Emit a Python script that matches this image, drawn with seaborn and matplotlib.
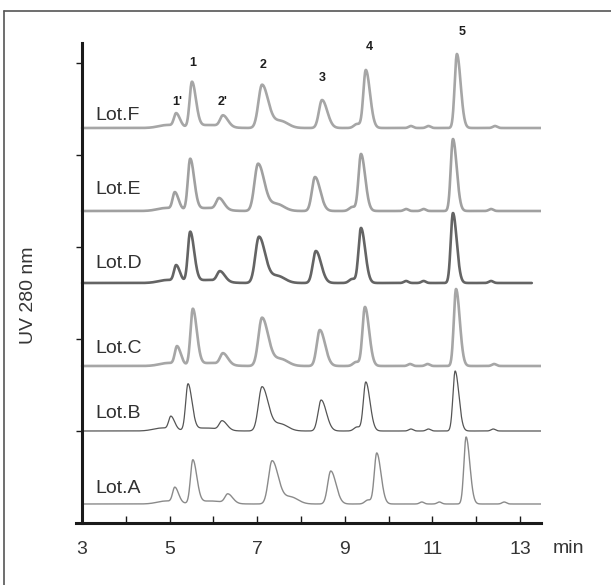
import numpy as np
import pandas as pd
import matplotlib
matplotlib.use("Agg")
import matplotlib.pyplot as plt
import matplotlib.transforms as mtransforms
from matplotlib.lines import Line2D
import seaborn as sns

# ---------------- data ----------------
lots = ["Lot.A", "Lot.B", "Lot.C", "Lot.D", "Lot.E", "Lot.F"]
baselines = [19, 92, 157, 240, 312, 395]          # vertical offset of each trace
run_end = [13.48, 13.48, 13.48, 13.27, 13.48, 13.48]

peak_names = ["1'", "1", "2'", "2", "3", "4", "5"]
peak_sigma = [0.05, 0.053, 0.065, 0.082, 0.07, 0.056, 0.05]

rt_A = [5.12, 5.53, 6.33, 7.34, 8.68, 9.73, 11.77]
h_A = [15, 43, 9, 43, 33, 51, 67]
rt_B = [5.03, 5.42, 6.20, 7.11, 8.46, 9.48, 11.52]
h_B = [13, 46, 9, 44, 31, 49, 60]
rt_C = [5.17, 5.53, 6.22, 7.11, 8.43, 9.46, 11.54]
h_C = [18, 56, 11, 48, 36, 59, 77]
rt_D = [5.15, 5.47, 6.15, 7.04, 8.34, 9.37, 11.47]
h_D = [16, 50, 10, 46, 32, 55, 70]
rt_E = [5.12, 5.47, 6.13, 7.02, 8.32, 9.37, 11.47]
h_E = [17, 51, 11, 47, 34, 57, 72]
rt_F = [5.15, 5.51, 6.22, 7.11, 8.48, 9.48, 11.56]
h_F = [13, 45, 11, 43, 28, 58, 74]

peak_rt = [rt_A, rt_B, rt_C, rt_D, rt_E, rt_F]
peak_h = [h_A, h_B, h_C, h_D, h_E, h_F]

# minor features: (reference peak index, rt offset, height, sigma)
minor_ref = [0, 1, 3, 5, 5, 5, 6]
minor_off = [-0.20, 0.40, 0.42, -0.20, 1.03, 1.43, 0.87]
minor_h = [3, 3, 7, 4, 2, 2, 2]
minor_sig = [0.20, 0.30, 0.17, 0.07, 0.05, 0.05, 0.05]

# peak annotation labels (F trace)
label_x = [5.17, 5.53, 6.22, 7.13, 8.48, 9.55, 11.68]
label_y = [421, 460, 421, 458, 445, 476, 491]

line_colors = ["#8a8a8a", "#555555", "#a6a6a6", "#646464", "#a0a0a0", "#a6a6a6"]
line_widths = [1.0, 0.9, 1.9, 1.9, 1.9, 1.9]
lot_label_y = [34, 109, 174, 259, 333, 407]

x_ticks = list(range(3, 14))
x_ticklabels = ["3", "", "5", "", "7", "", "9", "", "11", "", "13"]
y_ticks = [92, 184, 276, 368, 460]


def chromatogram(t, rts, hs):
    y = np.zeros_like(t)
    for r, h, s in zip(rts, hs, peak_sigma):
        sr = s * 1.7
        y += h * np.where(t < r, np.exp(-0.5 * ((t - r) / s) ** 2),
                          np.exp(-0.5 * ((t - r) / sr) ** 2))
    for ref, off, h, s in zip(minor_ref, minor_off, minor_h, minor_sig):
        r = rts[ref] + off
        y += h * np.exp(-0.5 * ((t - r) / s) ** 2)
    return y


frames = []
for lot, base, end, rts, hs in zip(lots, baselines, run_end, peak_rt, peak_h):
    t = np.linspace(3.0, end, 1600)
    frames.append(pd.DataFrame({"time": t,
                                "signal": base + chromatogram(t, rts, hs),
                                "lot": lot}))
df = pd.concat(frames, ignore_index=True)

# ---------------- plot ----------------
sns.set_style("ticks")
plt.rcParams["font.family"] = ["Liberation Sans", "DejaVu Sans"]

fig = plt.figure(figsize=(6.11, 5.85), dpi=100)
ax = fig.add_axes([0.1242, 0.106, 0.7612, 0.8205])

for lot, col, lw in zip(lots, line_colors, line_widths):
    sns.lineplot(data=df[df["lot"] == lot], x="time", y="signal", ax=ax,
                 color=col, linewidth=lw, estimator=None, sort=False,
                 legend=False)

for lot, ly in zip(lots, lot_label_y):
    ax.text(3.3, ly, lot, fontsize=14, color="#303030", va="center", ha="left")

for name, lx, ly in zip(peak_names, label_x, label_y):
    ax.text(lx, ly, name, fontsize=9, fontweight="bold", color="#1e1e1e",
            ha="center", va="center", clip_on=False)

ax.set_xlim(2.86, 13.48)
ax.set_ylim(0, 480)
ax.set_xlabel("")
ax.set_ylabel("UV 280 nm", fontsize=14, color="#353535")
ax.yaxis.set_label_coords(-0.084, 0.475)

ax.spines["top"].set_visible(False)
ax.spines["right"].set_visible(False)
ax.spines["left"].set_position(("data", 3))
for s in ("left", "bottom"):
    ax.spines[s].set_linewidth(2.2)
    ax.spines[s].set_color("#1a1a1a")

ax.set_xticks(x_ticks)
ax.set_xticklabels(x_ticklabels)
ax.set_yticks(y_ticks)
ax.set_yticklabels([])
ax.tick_params(axis="x", direction="in", length=5, width=1.0, pad=13,
               labelsize=14, labelcolor="#353535", color="#1a1a1a")
ax.tick_params(axis="y", direction="out", length=4, width=1.0,
               color="#1a1a1a")

trans = mtransforms.blended_transform_factory(ax.transData, ax.transAxes)
ax.text(14.1, -0.054, "min", transform=trans, fontsize=14, color="#353535",
        ha="center", va="center", clip_on=False)

# outer frame (top and left edges)
fig.add_artist(Line2D([4 / 611, 1.0], [1 - 11 / 585] * 2,
                      transform=fig.transFigure, color="#555555", lw=1.2))
fig.add_artist(Line2D([4 / 611] * 2, [0.0, 1 - 11 / 585],
                      transform=fig.transFigure, color="#555555", lw=1.2))

fig.savefig("out.png", dpi=100)
